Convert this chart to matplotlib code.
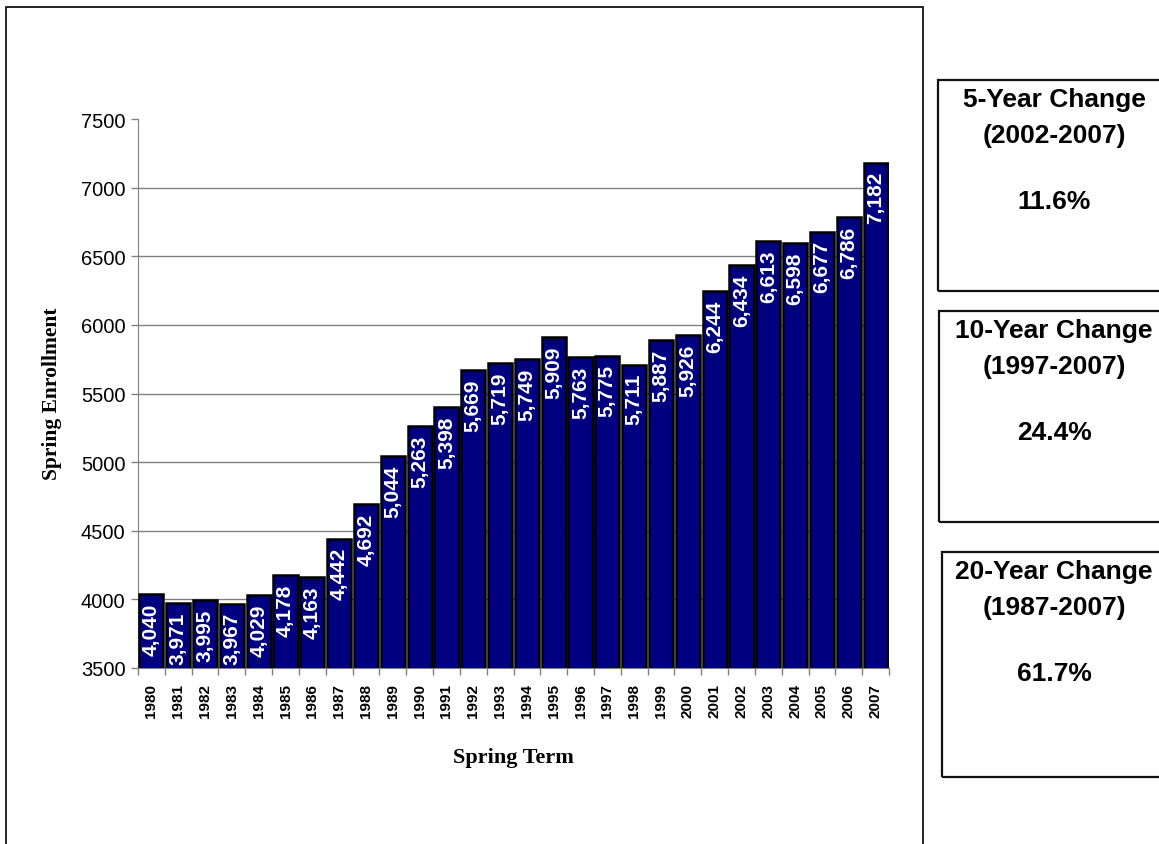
import matplotlib
matplotlib.use('Agg')
import matplotlib.pyplot as plt
from matplotlib.patches import Rectangle
import numpy as np

# data
years = [str(y) for y in range(1980, 2008)]
enrollment = [4040, 3971, 3995, 3967, 4029, 4178, 4163, 4442, 4692, 5044,
              5263, 5398, 5669, 5719, 5749, 5909, 5763, 5775, 5711, 5887,
              5926, 6244, 6434, 6613, 6598, 6677, 6786, 7182]
y_ticks = [3500, 4000, 4500, 5000, 5500, 6000, 6500, 7000, 7500]

box_titles = ['5-Year Change', '10-Year Change', '20-Year Change']
box_periods = ['(2002-2007)', '(1997-2007)', '(1987-2007)']
box_values = ['11.6%', '24.4%', '61.7%']

W, H = 1159, 845
plt.rcParams['font.family'] = ['Liberation Sans', 'DejaVu Sans']

fig = plt.figure(figsize=(W / 100, H / 100), dpi=100)

def fx(px):
    return px / W

def fy(py):
    return 1 - py / H

# outer chart frame
fig.add_artist(Rectangle((fx(6), fy(860)), fx(923) - fx(6), fy(8) - fy(860),
                         transform=fig.transFigure, fill=False,
                         edgecolor='black', linewidth=1.2))

ax = fig.add_axes([fx(138), fy(669), fx(889) - fx(138), fy(120) - fy(669)])

x = np.arange(len(years))
bars = ax.bar(x, enrollment, width=0.9, color='#000080',
              edgecolor='black', linewidth=1.8, zorder=3)

ax.set_ylim(3500, 7500)
ax.set_xlim(-0.5, len(years) - 0.5)
ax.set_yticks(y_ticks)
ax.set_yticklabels([str(v) for v in y_ticks], fontsize=14.5)
# gridlines only between the bottom and top ticks
for v in y_ticks[1:-1]:
    ax.axhline(v, color='#808080', linewidth=1, zorder=0)

ax.set_xticks(x)
ax.set_xticklabels(years, rotation=90, fontsize=11, fontweight='bold')
ax.set_xticks(np.arange(len(years) + 1) - 0.5, minor=True)
ax.tick_params(axis='x', which='major', length=0, pad=11)
ax.tick_params(axis='x', which='minor', length=5, color='#808080', width=1)
ax.tick_params(axis='y', length=5, color='#808080', width=1, pad=4)

for s in ['top', 'right']:
    ax.spines[s].set_visible(False)
ax.spines['left'].set_color('#808080')
ax.spines['bottom'].set_color('#808080')

for xi, v in zip(x, enrollment):
    ax.annotate(f'{v:,}', (xi, v), xytext=(0, -6), textcoords='offset points',
                rotation=90, ha='center', va='top', color='white',
                fontsize=15, fontweight='bold', zorder=4)

fig.text(fx(52), fy(394), 'Spring Enrollment', rotation=90, ha='center',
         va='center', fontsize=15.5, fontweight='bold', family='Liberation Serif')
fig.text(fx(513), fy(758), 'Spring Term', ha='center', va='center',
         fontsize=16, fontweight='bold', family='Liberation Serif')

# summary boxes on the right
box_rects = [(938, 81, 292), (939, 312, 523), (942, 553, 778)]
for (left, top, bottom), t, p, v in zip(box_rects, box_titles, box_periods, box_values):
    fig.add_artist(Rectangle((fx(left), fy(bottom)), fx(1170) - fx(left),
                             fy(top) - fy(bottom), transform=fig.transFigure,
                             fill=False, edgecolor='#111111', linewidth=1.6))
    cx = fx(1054)
    fig.text(cx, fy(top + 19), t, ha='center', va='center', fontsize=19, fontweight='bold')
    fig.text(cx, fy(top + 55), p, ha='center', va='center', fontsize=19, fontweight='bold')
    fig.text(cx, fy(top + 121), v, ha='center', va='center', fontsize=19, fontweight='bold')

fig.savefig('out.png', dpi=100)
